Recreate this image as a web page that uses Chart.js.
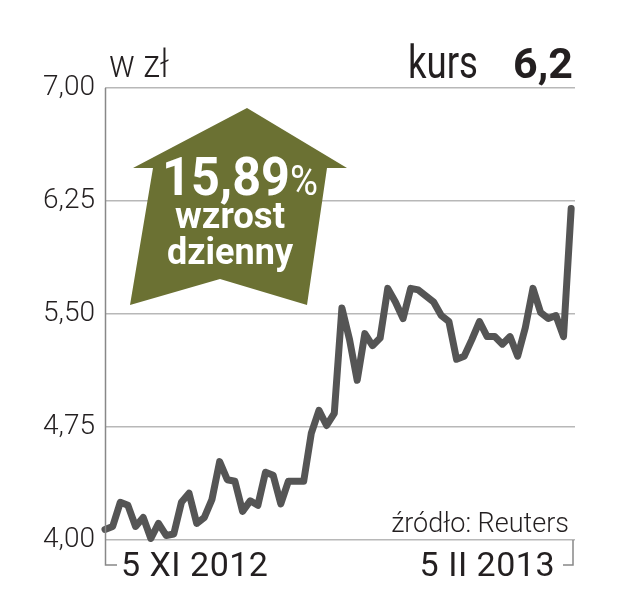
<!DOCTYPE html>
<html>
<head>
<meta charset="utf-8">
<script src="https://cdn.jsdelivr.net/npm/chart.js@4"></script>
<style>
  html, body { margin: 0; padding: 0; background: #fff; }
  #wrap { width: 623px; height: 604px; }
</style>
</head>
<body>
<div id="wrap"><canvas id="chart"></canvas></div>
<script>
// kurs zamkniecia, sesje od 5 XI 2012 do 5 II 2013
var closePrices = [
  4.07, 4.09, 4.25, 4.23, 4.09, 4.15, 4.01, 4.11, 4.03, 4.04,
  4.25, 4.31, 4.11, 4.15, 4.27, 4.52, 4.40, 4.39, 4.19, 4.26,
  4.23, 4.45, 4.43, 4.24, 4.39, 4.39, 4.39, 4.71, 4.86, 4.76,
  4.84, 5.54, 5.33, 5.06, 5.37, 5.29, 5.34, 5.67, 5.58, 5.47,
  5.67, 5.66, 5.62, 5.58, 5.49, 5.45, 5.20, 5.22, 5.33, 5.45,
  5.35, 5.35, 5.30, 5.35, 5.22, 5.41, 5.67, 5.51, 5.47, 5.49,
  5.35, 6.20
];
var dateLabels = ['5 XI 2012', '5 II 2013'];
var yTicks = [4.00, 4.75, 5.50, 6.25, 7.00];
var unitLabel = 'w zł';
var lastLabel = 'kurs';
var lastValue = '6,2';
var changeValue = '15,89';
var changeLines = ['wzrost', 'dzienny'];
var sourceLabel = 'źródło: Reuters';

var lineColor = '#555555';
var arrowColor = '#6b7133';
var textColor = '#231f20';
var gridColor = '#b8b8b8';

var decorations = {
  id: 'decorations',
  beforeDatasetsDraw: function(chart) {
    var ctx = chart.ctx;
    var a = chart.chartArea;
    ctx.save();
    // strzalka
    var pts = [[142, 20], [242, 80], [222, 80], [202, 217], [115, 191], [25, 217], [48, 80], [28, 80]];
    ctx.fillStyle = arrowColor;
    ctx.beginPath();
    pts.forEach(function(p, i) {
      if (i === 0) ctx.moveTo(a.left + p[0], a.top + p[1]);
      else ctx.lineTo(a.left + p[0], a.top + p[1]);
    });
    ctx.closePath();
    ctx.fill();

    ctx.fillStyle = '#fff';
    ctx.textBaseline = 'alphabetic';
    ctx.textAlign = 'left';
    ctx.font = 'bold 54px Roboto';
    ctx.fillText(changeValue, a.left + 57, a.top + 107, 128);
    ctx.font = '42px Roboto';
    ctx.fillText('%', a.left + 185, a.top + 107, 28);
    ctx.textAlign = 'center';
    ctx.font = 'bold 37px Roboto';
    ctx.fillText(changeLines[0], a.left + 125, a.top + 140, 110);
    ctx.fillText(changeLines[1], a.left + 125, a.top + 176, 126);
    ctx.restore();
  },
  afterDraw: function(chart) {
    var ctx = chart.ctx;
    var a = chart.chartArea;
    var bottom = a.bottom + 25;
    ctx.save();
    ctx.strokeStyle = '#888';
    ctx.lineWidth = 1.5;
    ctx.beginPath();
    ctx.moveTo(a.left + 0.5, a.top);
    ctx.lineTo(a.left + 0.5, bottom);
    ctx.lineTo(a.left + 12, bottom);
    ctx.moveTo(a.right - 2, a.bottom);
    ctx.lineTo(a.right - 2, bottom);
    ctx.lineTo(a.right - 12, bottom);
    ctx.stroke();

    ctx.fillStyle = textColor;
    ctx.textBaseline = 'alphabetic';
    ctx.font = '34px Roboto';
    ctx.letterSpacing = '0.5px';
    ctx.textAlign = 'left';
    ctx.fillText(dateLabels[0], a.left + 16, a.bottom + 36, 150);
    ctx.textAlign = 'right';
    ctx.fillText(dateLabels[1], a.right - 20, a.bottom + 36, 136);
    ctx.letterSpacing = '0px';

    ctx.font = '300 27px Roboto';
    ctx.fillText(sourceLabel, a.right - 6, a.bottom - 8, 182);

    ctx.textAlign = 'left';
    ctx.font = '300 38px Roboto';
    ctx.fillText(unitLabel, a.left + 4, a.top - 11, 60);
    ctx.font = '46px Roboto';
    ctx.fillText(lastLabel, 408, a.top - 10, 70);
    ctx.font = 'bold 43px Roboto';
    ctx.fillText(lastValue, 513, a.top - 10, 60);
    ctx.restore();
  }
};

new Chart(document.getElementById('chart'), {
  type: 'line',
  data: {
    datasets: [{
      data: closePrices.map(function(v, i) { return { x: i, y: v }; }),
      borderColor: lineColor,
      borderWidth: 7,
      borderJoinStyle: 'round',
      borderCapStyle: 'round',
      pointRadius: 0,
      tension: 0,
      fill: false,
      clip: false
    }]
  },
  options: {
    responsive: true,
    maintainAspectRatio: false,
    animation: false,
    devicePixelRatio: 1,
    layout: { padding: { top: 88, right: 48, bottom: 64, left: 0 } },
    plugins: { legend: { display: false }, tooltip: { enabled: false } },
    scales: {
      x: {
        type: 'linear',
        display: false,
        min: 0,
        max: closePrices.length - 0.5
      },
      y: {
        min: yTicks[0],
        max: yTicks[yTicks.length - 1],
        afterFit: function(s) { s.width = 105; },
        afterBuildTicks: function(s) { s.ticks = yTicks.map(function(v) { return { value: v }; }); },
        border: { display: false },
        grid: { color: gridColor, lineWidth: 1.5, drawTicks: false },
        ticks: {
          padding: 10,
          color: textColor,
          font: { family: 'Roboto', size: 28, weight: '300' },
          callback: function(v) { return v.toFixed(2).replace('.', ','); }
        }
      }
    }
  },
  plugins: [decorations]
});
</script>
</body>
</html>
